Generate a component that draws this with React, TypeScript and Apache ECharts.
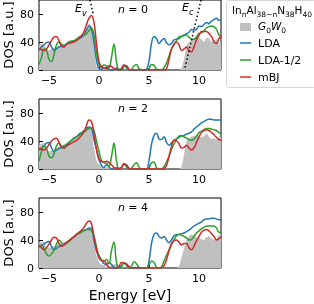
import React, { useEffect, useRef } from 'react';
import * as echarts from 'echarts';

const ENERGY = [
  -6, -5.75, -5.5, -5.25, -5, -4.75, -4.5, -4.25, -4, -3.75,
  -3.5, -3.25, -3, -2.75, -2.5, -2.25, -2, -1.75, -1.5, -1.25,
  -1, -0.75, -0.5, -0.25, 0, 0.25, 0.5, 0.75, 1, 1.25,
  1.5, 1.75, 2, 2.25, 2.5, 2.75, 3, 3.25, 3.5, 3.75,
  4, 4.25, 4.5, 4.75, 5, 5.25, 5.5, 5.75, 6, 6.25,
  6.5, 6.75, 7, 7.25, 7.5, 7.75, 8, 8.25, 8.5, 8.75,
  9, 9.25, 9.5, 9.75, 10, 10.25, 10.5, 10.75, 11, 11.25,
  11.5, 11.75, 12, 12.25,
];

// n = 0
const G0W0_N0 = [
  35, 37, 38, 30, 28, 30, 32, 33, 34, 35,
  36, 38, 39, 40, 42, 43, 45, 48, 51, 58,
  66, 62, 30, 6, 1, 3, 1, 0, 0, 0,
  0, 0, 0, 0, 0, 0, 0, 0, 0, 0,
  0, 0, 0, 0, 0, 0, 0, 0, 0, 0,
  0, 0, 0, 0, 0, 0, 0, 3, 15, 35,
  40, 43, 45, 48, 46, 44, 40, 46, 45, 40,
  42, 44, 38, 40,
];
const LDA_N0 = [
  28, 33, 36, 39, 40, 33, 28, 30, 33, 34,
  35, 37, 40, 41, 42, 43, 45, 47, 50, 57,
  63, 58, 38, 14, 2, 1, 3, 4, 1, 0,
  1, 3, 1, 0, 5, 6, 1, 0, 0, 0,
  0, 0, 0, 1, 12, 38, 48, 45, 38, 42,
  45, 39, 36, 38, 43, 44, 45, 48, 50, 52,
  54, 58, 57, 58, 63, 62, 65, 68, 66, 70,
  72, 74, 71, 72,
];
const LDA_HALF_N0 = [
  8, 18, 30, 28, 15, 12, 22, 36, 40, 37,
  35, 37, 40, 41, 42, 44, 47, 49, 50, 52,
  56, 60, 50, 25, 8, 4, 7, 6, 3, 18,
  37, 12, 0, 2, 7, 3, 0, 1, 6, 8,
  2, 0, 0, 0, 2, 8, 7, 1, 0, 0,
  3, 10, 20, 30, 36, 42, 47, 48, 49, 50,
  47, 44, 44, 47, 52, 53, 56, 60, 62, 63,
  62, 58, 50, 48,
];
const MBJ_N0 = [
  31, 29, 28, 30, 36, 42, 47, 48, 42, 34,
  33, 37, 38, 39, 40, 42, 45, 49, 55, 65,
  74, 78, 68, 38, 12, 5, 3, 2, 6, 5,
  2, 1, 0, 2, 7, 5, 1, 0, 0, 0,
  0, 0, 0, 0, 0, 0, 0, 0, 0, 0,
  0, 2, 15, 30, 37, 40, 36, 28, 30, 33,
  28, 26, 33, 43, 50, 55, 55, 55, 52, 48,
  40, 38, 45, 48,
];

// n = 2
const G0W0_N2 = [
  34, 36, 37, 28, 25, 26, 28, 30, 32, 34,
  35, 37, 39, 41, 43, 45, 47, 50, 53, 57,
  60, 55, 30, 12, 6, 4, 3, 2, 2, 1,
  0, 0, 0, 0, 0, 0, 0, 0, 0, 0,
  0, 0, 0, 0, 0, 0, 0, 0, 0, 0,
  0, 0, 0, 0, 0, 0, 0, 3, 20, 40,
  44, 46, 47, 48, 47, 45, 47, 51, 46, 43,
  44, 42, 46, 45,
];
const LDA_N2 = [
  27, 30, 33, 37, 38, 30, 25, 27, 29, 31,
  33, 35, 38, 41, 44, 46, 50, 52, 55, 58,
  60, 58, 42, 28, 15, 5, 2, 6, 3, 0,
  0, 2, 1, 2, 7, 6, 1, 0, 0, 0,
  0, 0, 0, 0, 12, 35, 48, 51, 43, 42,
  46, 38, 34, 37, 41, 43, 45, 47, 48, 50,
  51, 53, 57, 60, 63, 66, 68, 70, 71, 71,
  70, 70, 70, 70,
];
const LDA_HALF_N2 = [
  11, 25, 33, 30, 18, 16, 22, 33, 37, 32,
  30, 34, 38, 41, 44, 46, 48, 51, 53, 55,
  58, 59, 55, 40, 25, 12, 9, 8, 4, 18,
  37, 12, 0, 2, 7, 3, 0, 1, 6, 9,
  3, 0, 0, 0, 2, 9, 10, 2, 0, 0,
  3, 10, 18, 28, 36, 42, 47, 48, 46, 44,
  42, 41, 43, 47, 52, 54, 56, 58, 58, 57,
  56, 55, 52, 50,
];
const MBJ_N2 = [
  30, 28, 27, 30, 35, 40, 43, 44, 38, 31,
  30, 33, 35, 37, 39, 41, 44, 48, 53, 62,
  70, 68, 50, 28, 13, 11, 10, 11, 9, 6,
  2, 0, 0, 2, 8, 5, 1, 0, 0, 0,
  0, 0, 0, 0, 0, 0, 0, 0, 0, 0,
  1, 5, 18, 32, 41, 40, 36, 30, 31, 34,
  30, 27, 30, 38, 46, 52, 55, 56, 55, 52,
  49, 45, 42, 41,
];

// n = 4
const G0W0_N4 = [
  36, 37, 38, 30, 29, 30, 31, 33, 34, 35,
  37, 38, 40, 42, 44, 46, 48, 50, 52, 55,
  56, 52, 32, 18, 8, 5, 4, 4, 3, 4,
  5, 6, 3, 1, 0, 0, 0, 0, 0, 0,
  0, 0, 0, 0, 0, 0, 0, 0, 0, 0,
  0, 0, 0, 0, 0, 0, 3, 15, 28, 40,
  45, 48, 47, 44, 43, 41, 40, 44, 45, 42,
  40, 42, 47, 48,
];
const LDA_N4 = [
  31, 32, 34, 37, 38, 31, 26, 28, 31, 32,
  34, 36, 39, 42, 45, 48, 50, 52, 54, 55,
  57, 56, 38, 24, 18, 11, 6, 5, 8, 5,
  1, 0, 1, 3, 7, 5, 1, 0, 0, 0,
  0, 0, 0, 0, 10, 35, 48, 50, 45, 43,
  45, 40, 36, 40, 46, 48, 48, 49, 50, 52,
  54, 57, 60, 62, 64, 66, 69, 70, 70, 71,
  71, 70, 69, 69,
];
const LDA_HALF_N4 = [
  29, 33, 28, 20, 17, 20, 25, 34, 40, 36,
  33, 35, 38, 41, 44, 47, 49, 51, 53, 55,
  55, 53, 45, 30, 17, 11, 10, 12, 6, 25,
  37, 8, 0, 2, 7, 4, 0, 3, 9, 6,
  1, 0, 0, 0, 4, 10, 8, 1, 0, 2,
  10, 18, 26, 33, 40, 46, 48, 47, 45, 43,
  40, 41, 45, 50, 53, 56, 58, 60, 60, 60,
  60, 57, 51, 50,
];
const MBJ_N4 = [
  33, 29, 26, 29, 34, 40, 44, 43, 35, 31,
  33, 37, 39, 42, 45, 48, 51, 54, 58, 64,
  67, 63, 45, 27, 14, 11, 10, 6, 1, 0,
  0, 0, 2, 8, 7, 6, 2, 0, 0, 0,
  0, 0, 0, 0, 0, 0, 0, 0, 0, 0,
  3, 12, 24, 35, 39, 40, 37, 33, 35, 35,
  29, 26, 31, 39, 45, 51, 54, 55, 53, 49,
  45, 40, 42, 45,
];

const PANEL_N = ['0', '2', '4'];
const X_TICKS = [-5, 0, 5, 10];
const Y_TICKS = [0, 40, 80];
// band-edge guide lines (energy, DOS) for n = 0
const EV_LINE = [[-0.9, 100], [-0.6, 81]];
const EC_LINE = [[10.2, 100], [8.55, 0]];

const FONT = 'DejaVu Sans';
const C_G0W0 = '#c0c0c0';
const C_LDA = '#1f77b4';
const C_HALF = '#2ca02c';
const C_MBJ = '#d62728';

const PANELS = [
  { g0w0: G0W0_N0, lda: LDA_N0, half: LDA_HALF_N0, mbj: MBJ_N0 },
  { g0w0: G0W0_N2, lda: LDA_N2, half: LDA_HALF_N2, mbj: MBJ_N2 },
  { g0w0: G0W0_N4, lda: LDA_N4, half: LDA_HALF_N4, mbj: MBJ_N4 },
];

const zip = (ys: number[]) => ENERGY.map((x, i) => [x, ys[i]]);

const txt = (size: number, italic = false) => ({
  fontSize: size,
  fontFamily: FONT,
  fontStyle: italic ? 'italic' : 'normal',
  fill: '#000',
  verticalAlign: 'top',
  lineHeight: 13,
});
const sub = (size: number, italic = false) => ({
  fontSize: size,
  fontFamily: FONT,
  fontStyle: italic ? 'italic' : 'normal',
  fill: '#000',
  verticalAlign: 'top',
  padding: [6, 0, 0, 0],
});

export default function App() {
  const ref = useRef<HTMLDivElement>(null);
  useEffect(() => {
    const chart = echarts.init(ref.current!, null, { renderer: 'svg' });
    const tops = [0, 99, 198];
    const grid = tops.map((t) => ({
      left: 39, top: t, width: 182, height: 70,
      outerBoundsMode: 'none', containLabel: false,
      show: true, borderColor: '#000', borderWidth: 1, backgroundColor: 'transparent',
    }));
    const xAxis = tops.map((_, i) => ({
      type: 'value', gridIndex: i, min: -6, max: 12.2,
      axisLine: { show: false, onZero: false },
      splitLine: { show: false },
      axisTick: { show: true, inside: true, length: 4, customValues: X_TICKS, lineStyle: { color: '#000', width: 1 } },
      axisLabel: {
        customValues: X_TICKS, margin: 5, color: '#000', fontFamily: FONT, fontSize: 11,
        formatter: (v: number) => String(v).replace('-', '\u2212'),
      },
      name: i === 2 ? 'Energy [eV]' : '',
      nameLocation: 'middle', nameGap: 20, nameMoveOverlap: false,
      nameTextStyle: { color: '#000', fontFamily: FONT, fontSize: 14 },
    }));
    const yAxis = tops.map((_, i) => ({
      type: 'value', gridIndex: i, min: 0, max: 100,
      axisLine: { show: false, onZero: false },
      splitLine: { show: false },
      axisTick: { show: true, inside: true, length: 4, customValues: Y_TICKS, lineStyle: { color: '#000', width: 1 } },
      axisLabel: { customValues: Y_TICKS, margin: 5, color: '#000', fontFamily: FONT, fontSize: 11 },
      name: 'DOS [a.u.]', nameLocation: 'middle', nameGap: 24, nameRotate: 90, nameMoveOverlap: false,
      nameTextStyle: { color: '#000', fontFamily: FONT, fontSize: 13 },
    }));
    const series: any[] = [];
    PANELS.forEach((p, i) => {
      series.push({
        type: 'line', name: 'G0W0', xAxisIndex: i, yAxisIndex: i, data: zip(p.g0w0),
        symbol: 'none', smooth: 0.2, lineStyle: { width: 0, color: C_G0W0 },
        itemStyle: { color: C_G0W0 }, areaStyle: { color: C_G0W0, opacity: 1 }, z: 1,
      });
      [[p.lda, C_LDA, 'LDA'], [p.half, C_HALF, 'LDA-1/2'], [p.mbj, C_MBJ, 'mBJ']].forEach(([d, c, n], k) => {
        series.push({
          type: 'line', name: n, xAxisIndex: i, yAxisIndex: i, data: zip(d as number[]),
          symbol: 'none', smooth: 0.4, lineStyle: { width: 1.5, color: c }, itemStyle: { color: c }, z: 2 + k,
        });
      });
    });
    [EV_LINE, EC_LINE].forEach((d) => {
      series.push({
        type: 'line', xAxisIndex: 0, yAxisIndex: 0, data: d, symbol: 'none',
        lineStyle: { color: '#000', width: 1.5, type: [1.5, 2.5] }, z: 6,
      });
    });

    const graphic: any[] = [];
    tops.forEach((t, i) => {
      graphic.push({
        type: 'text', z: 10,
        style: {
          text: `{i|n}{r| = ${PANEL_N[i]}}`, x: 133, y: t + 10, align: 'center', verticalAlign: 'middle',
          rich: { i: txt(11, true), r: txt(11) },
        },
      });
    });
    graphic.push({
      type: 'text', z: 10,
      style: { text: '{i|E}{s|v}', x: 75, y: 10, align: 'left', verticalAlign: 'middle', rich: { i: txt(11, true), s: sub(8, true) } },
    });
    graphic.push({
      type: 'text', z: 10,
      style: { text: '{i|E}{s|c}', x: 182, y: 9, align: 'left', verticalAlign: 'middle', rich: { i: txt(11, true), s: sub(8, true) } },
    });
    // legend
    graphic.push({
      type: 'rect', z: 20, shape: { x: 226.5, y: 0.5, width: 90, height: 87, r: 3 },
      style: { fill: '#fff', stroke: '#d5d5d5', lineWidth: 1 },
    });
    graphic.push({
      type: 'text', z: 21,
      style: {
        text: '{n|In}{s|n}{n|Al}{s|38\u2212n}{n|N}{s|38}{n|H}{s|40}', x: 232, y: 11, align: 'left', verticalAlign: 'middle',
        rich: { n: txt(10.5), s: sub(7.5) },
      },
    });
    graphic.push({ type: 'rect', z: 21, shape: { x: 240, y: 23, width: 11, height: 8 }, style: { fill: C_G0W0 } });
    graphic.push({
      type: 'text', z: 21,
      style: { text: '{i|G}{s|0}{i|W}{s|0}', x: 258, y: 27, align: 'left', verticalAlign: 'middle', rich: { i: txt(10.5, true), s: sub(7.5, false) } },
    });
    [[C_LDA, 'LDA', 43], [C_HALF, 'LDA-1/2', 60], [C_MBJ, 'mBJ', 77]].forEach(([c, n, y]) => {
      graphic.push({ type: 'line', z: 21, shape: { x1: 240, y1: y, x2: 251, y2: y }, style: { stroke: c, lineWidth: 1.5 } });
      graphic.push({
        type: 'text', z: 21,
        style: { text: n, x: 258, y, align: 'left', verticalAlign: 'middle', fontSize: 11, fontFamily: FONT, fill: '#000' },
      });
    });

    chart.setOption({ animation: false, grid, xAxis, yAxis, series, graphic });
    return () => chart.dispose();
  }, []);
  return <div ref={ref} style={{ position: 'fixed', left: 0, top: 0, width: 314, height: 304 }} />;
}
